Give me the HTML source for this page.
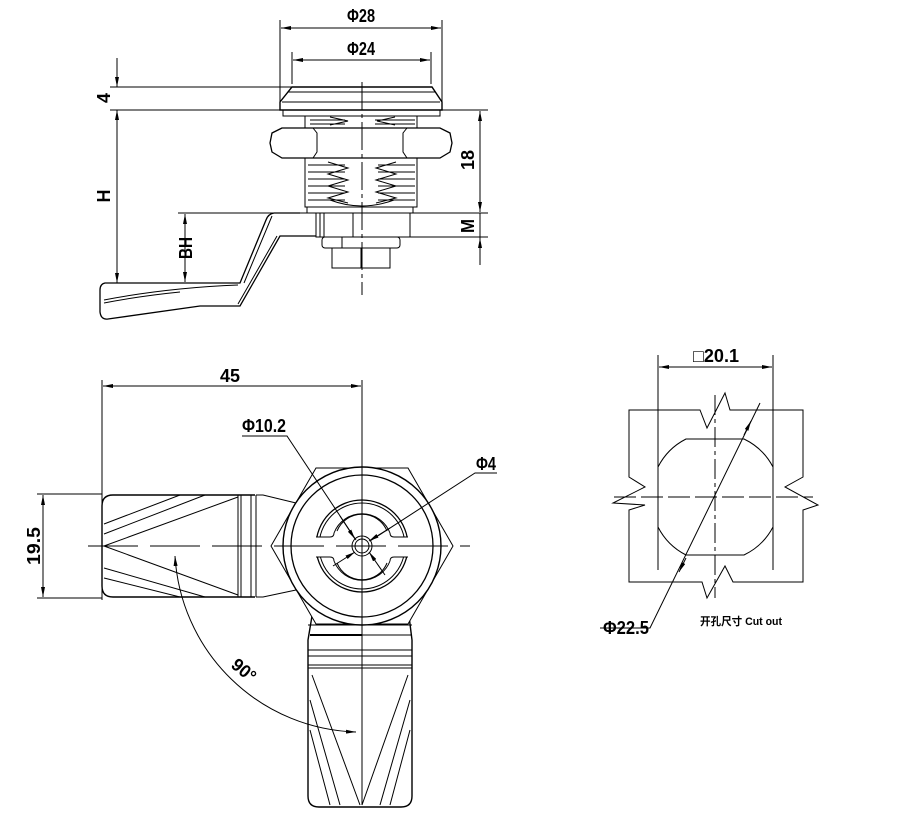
<!DOCTYPE html>
<html><head><meta charset="utf-8"><style>
html,body{margin:0;padding:0;background:#fff}
svg{display:block}
text{font-family:"Liberation Sans","Noto Sans CJK SC",sans-serif;fill:#000}
</style></head><body>
<svg width="904" height="820" viewBox="0 0 904 820" xmlns="http://www.w3.org/2000/svg">
<defs>
<marker id="a" viewBox="0 0 10 4" refX="10" refY="2" markerWidth="10" markerHeight="4" orient="auto-start-reverse" markerUnits="userSpaceOnUse"><path d="M0,0 L10,2 L0,4z" fill="#000"/></marker>
</defs>
<g fill="none" stroke="#000" stroke-width="1">
<!-- ===== TOP VIEW ===== -->
<!-- dims phi28 / phi24 -->
<line x1="280" y1="20" x2="280" y2="104"/><line x1="442" y1="20" x2="442" y2="104"/>
<line x1="281" y1="28" x2="441" y2="28" marker-start="url(#a)" marker-end="url(#a)"/>
<line x1="292" y1="52" x2="292" y2="84"/><line x1="431" y1="52" x2="431" y2="84"/>
<line x1="293" y1="60" x2="430" y2="60" marker-start="url(#a)" marker-end="url(#a)"/>
<!-- horiz ref lines -->
<line x1="110" y1="87" x2="292" y2="87"/>
<line x1="110" y1="110" x2="488" y2="110"/>
<line x1="178" y1="213" x2="488" y2="213"/>
<line x1="405" y1="237" x2="488" y2="237"/>
<!-- 4 dim -->
<line x1="117" y1="58" x2="117" y2="87" marker-end="url(#a)"/>
<line x1="117" y1="130" x2="117" y2="110" marker-end="url(#a)"/>
<!-- H dim -->
<line x1="117" y1="112" x2="117" y2="283" marker-end="url(#a)"/>
<!-- 18 / M dim -->
<line x1="480" y1="111" x2="480" y2="212" marker-start="url(#a)" marker-end="url(#a)"/>
<line x1="480" y1="213" x2="480" y2="265"/>
<line x1="480" y1="250" x2="480" y2="238" marker-end="url(#a)"/>
<!-- BH -->
<line x1="185" y1="214" x2="185" y2="282" marker-start="url(#a)" marker-end="url(#a)"/>
<!-- cap -->
<path d="M292,87 L432,87 L442,102 L442,110 L280,110 L280,102 Z" stroke-width="1.4"/>
<line x1="282" y1="102" x2="440" y2="102"/>
<line x1="288" y1="92" x2="436" y2="92"/>
<rect x="283" y="110" width="157" height="6"/>
<!-- upper thread -->
<rect x="305" y="116" width="112" height="12"/>
<path d="M310,120 L345,120 M310,124 L345,124 M375,120 L415,120 M375,124 L415,124"/>
<path d="M330,117 L348,121 L330,125 M395,117 L377,121 L395,125"/>
<!-- nut -->
<path d="M282,128 L272,133 L270,143 L272,152 L282,158 L440,158 L450,152 L452,143 L450,133 L440,128 Z" stroke-width="1.3"/>
<path d="M313,128 L317,133 L317,152 L313,158 M407,128 L403,133 L403,152 L407,158"/>
<!-- lower thread body -->
<rect x="305" y="158" width="112" height="49"/>
<path d="M308,165 L345,165 M308,172 L345,172 M308,179 L345,179 M308,186 L345,186 M308,193 L345,193 M308,200 L345,200"/>
<path d="M378,165 L415,165 M378,172 L415,172 M378,179 L415,179 M378,186 L415,186 M378,193 L415,193 M378,200 L415,200"/>
<path d="M328,162 L348,168 L328,174 L348,180 L328,186 L348,192 L328,198 L348,203"/>
<path d="M396,162 L376,168 L396,174 L376,180 L396,186 L376,192 L396,198 L376,203"/>
<path d="M330,200 Q362,212 394,200"/>
<rect x="307" y="207" width="106" height="6"/>
<!-- collar -->
<rect x="316" y="213" width="94" height="24"/>
<path d="M320,213 V237 M324,213 V237 M353,213 V237"/>
<rect x="322" y="237" width="78" height="11" rx="3"/>
<path d="M342,237 V248"/>
<path d="M332,248 H390 V268 H332 Z"/>
<path d="M361,248 V268"/>
<!-- centre line -->
<line x1="362" y1="82" x2="362" y2="295" stroke-dasharray="28,4,4,4"/>
<!-- lever -->
<path d="M300,213 L274,213 Q268,214 266,220 L240,283 L105,283 Q100,284 100,290 L100,312 Q101,320 108,319 L200,306 L240,306 L280,236 L316,236" stroke-width="1.3"/>
<path d="M272,216 L244,283 M277,236 L238,304"/>
<path d="M104,300 Q140,293 180,289 Q210,286 238,285"/>
<path d="M104,303 Q140,296 180,292"/>
<!-- ===== BOTTOM VIEW ===== -->
<line x1="102" y1="380" x2="102" y2="600"/>
<line x1="362" y1="380" x2="362" y2="805" stroke-dasharray="none"/>
<line x1="103" y1="386" x2="361" y2="386" marker-start="url(#a)" marker-end="url(#a)"/>
<line x1="37" y1="494" x2="102" y2="494"/><line x1="37" y1="598" x2="102" y2="598"/>
<line x1="43" y1="495" x2="43" y2="597" marker-start="url(#a)" marker-end="url(#a)"/>
<!-- left lever -->
<path d="M255,495 L113,495 Q102,495 102,506 L102,586 Q102,597 113,597 L255,597" stroke-width="1.4"/>
<path d="M238,495 V597 M241,495 V597 M251,495 V597 M256,495 V597"/>
<path d="M256,495 L263,495 L296,503 M256,597 L263,597 L296,590"/>
<path d="M104,524 L180,495 M104,534 L205,495 M104,546 L238,497 M104,546 L238,595 M104,568 L205,597 M104,578 L180,597"/>
<!-- bottom lever -->
<path d="M312,616 L308,640 L308,796 Q308,807 319,807 L401,807 Q412,807 412,796 L412,640 L409,616" stroke-width="1.4"/>
<path d="M308,625 H412 M308,650 H412 M308,656 H412 M308,665 H412 M308,668 H412"/>
<line x1="310" y1="635" x2="362" y2="635" stroke-width="2"/><line x1="362" y1="635" x2="412" y2="635"/>
<path d="M312,675 L360,805 M310,700 L340,805 M310,730 L330,805 M408,675 L362,805 M410,700 L380,805 M410,730 L390,805"/>
<!-- hex -->
<path d="M271,546 L316,468 L408,468 L453,546 L408,624 L316,624 Z" fill="#fff"/>
<circle cx="362" cy="546" r="79" fill="#fff" stroke-width="1.4"/>
<circle cx="362" cy="546" r="71" stroke-width="1.3"/>
<circle cx="362" cy="546" r="46" stroke-width="1.3"/>
<circle cx="362" cy="546" r="43"/>
<rect x="314" y="537" width="96" height="20" fill="#fff" stroke="none"/>
<path d="M316,537 H330 Q334,537 334,533 M316,557 H330 Q334,557 334,561 M408,537 H394 Q390,537 390,533 M408,557 H394 Q390,557 390,561"/>
<path d="M334,533 A30,30 0 0 1 390,533 M334,561 A30,30 0 0 0 390,561"/>
<path d="M337,531 A27,27 0 0 1 387,531 M337,563 A27,27 0 0 0 387,563"/>
<circle cx="362" cy="546" r="10"/><circle cx="362" cy="546" r="7"/>
<!-- centre lines -->
<line x1="88" y1="546" x2="470" y2="546" stroke-dasharray="50,12"/>
<line x1="362" y1="380" x2="362" y2="805"/>
<!-- leaders -->
<path d="M242,436 H287 L356,540" />
<line x1="340" y1="516" x2="355" y2="539" marker-end="url(#a)"/>
<line x1="385" y1="575" x2="369" y2="552" marker-end="url(#a)"/>
<path d="M497,473 H475 L370,541"/>
<line x1="390" y1="528" x2="369" y2="541" marker-end="url(#a)"/>
<line x1="333" y1="566" x2="355" y2="552" marker-end="url(#a)"/>
<!-- 90 arc -->
<path d="M175,556 A187,187 0 0 0 356,732" marker-start="url(#a)" marker-end="url(#a)"/>
<!-- ===== CUTOUT ===== -->
<line x1="658" y1="355" x2="658" y2="570"/><line x1="773" y1="355" x2="773" y2="570"/>
<line x1="659" y1="367" x2="772" y2="367" marker-start="url(#a)" marker-end="url(#a)"/>
<path d="M629,410 L700,410 L707,428 L725,393 L730,410 L803,410 L803,477 L785,487 L818,505 L803,510 L803,582 L733,582 L725,566 L707,598 L702,582 L629,582 L629,510 L645,505 L613,503 L645,487 L629,477 Z"/>
<path d="M686,439 L744,439 A64,64 0 0 1 773,467 L773,527 A64,64 0 0 1 744,555 L686,555 A64,64 0 0 1 658,527 L658,467 A64,64 0 0 1 686,439 Z"/>
<line x1="715" y1="395" x2="715" y2="598" stroke-dasharray="20,4,4,4"/>
<line x1="614" y1="497" x2="813" y2="497" stroke-dasharray="22,5"/>
<path d="M760,403 L650,628 H600"/>
<line x1="744" y1="435" x2="751" y2="421" marker-end="url(#a)"/>
<line x1="686" y1="558" x2="679" y2="572" marker-end="url(#a)"/>
</g>
<!-- labels -->
<g font-size="18" font-weight="bold">
<text x="361" y="22" text-anchor="middle" textLength="28" lengthAdjust="spacingAndGlyphs">Φ28</text>
<text x="361" y="55" text-anchor="middle" textLength="28" lengthAdjust="spacingAndGlyphs">Φ24</text>
<text transform="translate(110,98) rotate(-90)" text-anchor="middle">4</text>
<text transform="translate(110,196) rotate(-90)" text-anchor="middle">H</text>
<text transform="translate(192,248) rotate(-90)" text-anchor="middle" textLength="22" lengthAdjust="spacingAndGlyphs">BH</text>
<text transform="translate(474,160) rotate(-90)" text-anchor="middle" textLength="20" lengthAdjust="spacingAndGlyphs">18</text>
<text transform="translate(474,226) rotate(-90)" text-anchor="middle" textLength="14" lengthAdjust="spacingAndGlyphs">M</text>
<text x="230" y="382" text-anchor="middle" textLength="20" lengthAdjust="spacingAndGlyphs">45</text>
<text transform="translate(40,546) rotate(-90)" text-anchor="middle" textLength="38" lengthAdjust="spacingAndGlyphs">19.5</text>
<text x="242" y="432" textLength="44" lengthAdjust="spacingAndGlyphs">Φ10.2</text>
<text x="476" y="470" textLength="20" lengthAdjust="spacingAndGlyphs">Φ4</text>
<text transform="translate(240,675) rotate(40)" text-anchor="middle" textLength="26" lengthAdjust="spacingAndGlyphs">90°</text>
<text x="603" y="634" textLength="46" lengthAdjust="spacingAndGlyphs">Φ22.5</text>
<text x="693" y="362" textLength="46" lengthAdjust="spacingAndGlyphs">□20.1</text>
</g>
<text x="700" y="625" font-size="11" font-weight="bold" textLength="82" lengthAdjust="spacingAndGlyphs">开孔尺寸 Cut out</text>
</svg>
</body></html>
